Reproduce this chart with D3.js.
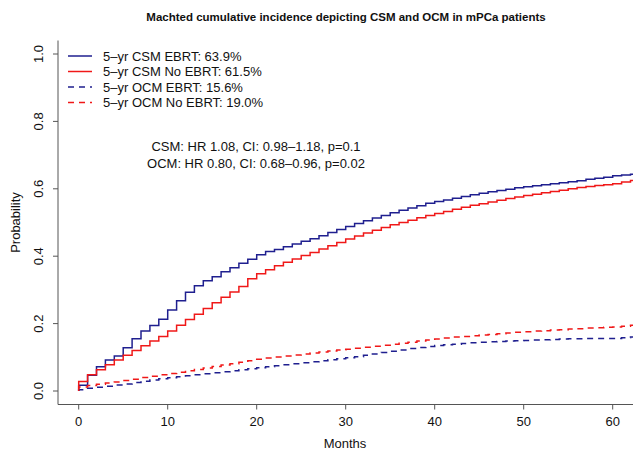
<!DOCTYPE html>
<html><head><meta charset="utf-8">
<script src="https://cdn.jsdelivr.net/npm/d3@7"></script>
<style>
html,body{margin:0;padding:0;background:#fff;}
svg{display:block;font-family:"Liberation Sans",Arial,Helvetica,sans-serif;}
</style></head>
<body>
<svg id="chart" width="633" height="451"></svg>
<script>
const title = "Machted cumulative incidence depicting CSM and OCM in mPCa patients";
const xLabel = "Months";
const yLabel = "Probability";
const xTicks = [0, 10, 20, 30, 40, 50, 60];
const yTicks = [0.0, 0.2, 0.4, 0.6, 0.8, 1.0];
const months = d3.range(0, 64);
const csmEbrt = [0.017,0.047,0.072,0.092,0.104,0.128,0.155,0.178,0.194,0.213,0.240,0.268,0.293,0.312,0.327,0.339,0.354,0.366,0.379,0.391,0.404,0.414,0.420,0.428,0.436,0.444,0.452,0.461,0.470,0.479,0.488,0.497,0.505,0.513,0.521,0.529,0.536,0.543,0.550,0.557,0.562,0.567,0.572,0.577,0.582,0.587,0.591,0.595,0.599,0.603,0.606,0.609,0.612,0.615,0.618,0.621,0.624,0.628,0.631,0.634,0.639,0.641,0.643,0.643];
const csmNoEbrt = [0.028,0.048,0.063,0.078,0.092,0.106,0.120,0.134,0.148,0.162,0.178,0.195,0.212,0.228,0.245,0.262,0.278,0.294,0.310,0.333,0.348,0.360,0.372,0.382,0.392,0.402,0.411,0.421,0.431,0.441,0.451,0.460,0.469,0.477,0.485,0.493,0.500,0.507,0.514,0.521,0.527,0.533,0.539,0.545,0.551,0.556,0.561,0.566,0.571,0.576,0.580,0.584,0.588,0.592,0.596,0.600,0.604,0.607,0.610,0.612,0.615,0.620,0.625,0.625];
const ocmEbrt = [0.004,0.008,0.011,0.014,0.018,0.021,0.025,0.029,0.033,0.036,0.039,0.042,0.045,0.048,0.051,0.054,0.057,0.060,0.063,0.066,0.069,0.072,0.075,0.078,0.081,0.084,0.087,0.090,0.093,0.096,0.099,0.102,0.106,0.110,0.114,0.118,0.122,0.126,0.129,0.132,0.135,0.137,0.139,0.141,0.143,0.145,0.146,0.147,0.148,0.149,0.150,0.151,0.152,0.153,0.154,0.155,0.155,0.156,0.156,0.156,0.156,0.158,0.160,0.160];
const ocmNoEbrt = [0.012,0.016,0.020,0.024,0.027,0.031,0.035,0.040,0.044,0.048,0.052,0.056,0.060,0.064,0.068,0.073,0.077,0.081,0.085,0.090,0.094,0.098,0.101,0.104,0.107,0.110,0.113,0.116,0.119,0.122,0.124,0.127,0.130,0.133,0.136,0.139,0.142,0.145,0.148,0.151,0.154,0.157,0.160,0.162,0.164,0.166,0.168,0.170,0.172,0.174,0.176,0.178,0.179,0.181,0.182,0.184,0.185,0.187,0.188,0.189,0.190,0.192,0.195,0.195];
const seriesNames = ["5\u2013yr CSM EBRT: 63.9%","5\u2013yr CSM No EBRT: 61.5%","5\u2013yr OCM EBRT: 15.6%","5\u2013yr OCM No EBRT: 19.0%"];
const seriesValues = [csmEbrt, csmNoEbrt, ocmEbrt, ocmNoEbrt];
const seriesColors = ["#1f1f8f","#f01818","#1f1f8f","#f01818"];
const seriesDash = [null, null, "6,5", "6,5"];
const annotation = ["CSM: HR 1.08, CI: 0.98\u20131.18, p=0.1","OCM: HR 0.80, CI: 0.68\u20130.96, p=0.02"];

const svg = d3.select("#chart");
const x = d3.scaleLinear().domain([0, 60]).range([78.7, 612.7]);
const y = d3.scaleLinear().domain([0, 1]).range([391, 54]);
const plotL = 58, plotT = 40.5, plotB = 404.5, plotR = 633;

svg.append("defs").append("clipPath").attr("id","clip")
  .append("rect").attr("x",plotL).attr("y",plotT).attr("width",plotR-plotL).attr("height",plotB-plotT);

// title
svg.append("text").attr("x",346).attr("y",21).attr("text-anchor","middle")
  .attr("font-weight","bold").attr("font-size",11.5).attr("fill","#111").text(title);

// axes (L-shaped box)
const axisColor = "#555";
svg.append("path").attr("d",`M${plotL},${plotT}V${plotB}H${plotR}`)
  .attr("fill","none").attr("stroke",axisColor).attr("stroke-width",1);
const xAxis = svg.append("g");
xAxis.selectAll("line").data(xTicks).join("line")
  .attr("x1",d=>x(d)).attr("x2",d=>x(d)).attr("y1",plotB).attr("y2",plotB+5)
  .attr("stroke",axisColor);
xAxis.selectAll("text").data(xTicks).join("text")
  .attr("x",d=>x(d)).attr("y",426).attr("text-anchor","middle")
  .attr("font-size",13).attr("fill","#111").text(d=>d);
const yAxis = svg.append("g");
yAxis.selectAll("line").data(yTicks).join("line")
  .attr("x1",plotL-5).attr("x2",plotL).attr("y1",d=>y(d)).attr("y2",d=>y(d))
  .attr("stroke",axisColor);
yAxis.selectAll("text").data(yTicks).join("text")
  .attr("transform",d=>`translate(43,${y(d)}) rotate(-90)`)
  .attr("text-anchor","middle").attr("font-size",13).attr("fill","#111")
  .text(d=>d.toFixed(1));

svg.append("text").attr("x",345).attr("y",448).attr("text-anchor","middle")
  .attr("font-size",13).attr("fill","#111").text(xLabel);
svg.append("text").attr("transform",`translate(20,222.5) rotate(-90)`)
  .attr("text-anchor","middle").attr("font-size",13).attr("fill","#111").text(yLabel);

// curves
const line = d3.line().x(d=>x(d[0])).y(d=>y(d[1])).curve(d3.curveStepAfter);
const g = svg.append("g").attr("clip-path","url(#clip)");
seriesValues.forEach((vals,i)=>{
  const pts = [[0,0]].concat(months.map((m,j)=>[m, vals[j]]));
  g.append("path").datum(pts).attr("d",line).attr("fill","none")
    .attr("stroke",seriesColors[i]).attr("stroke-width",1.5)
    .attr("stroke-dasharray",seriesDash[i]);
});

// legend
const leg = svg.append("g");
seriesNames.forEach((name,i)=>{
  const cy = 56 + i*15.5;
  leg.append("line").attr("x1",68).attr("x2",92).attr("y1",cy).attr("y2",cy)
    .attr("stroke",seriesColors[i]).attr("stroke-width",1.5).attr("stroke-dasharray",seriesDash[i]);
  leg.append("text").attr("x",103).attr("y",cy).attr("dy","0.35em")
    .attr("font-size",13).attr("fill","#111").text(name);
});

// annotation
annotation.forEach((t,i)=>{
  svg.append("text").attr("x",256).attr("y",146+i*17).attr("dy","0.35em")
    .attr("text-anchor","middle").attr("font-size",13).attr("fill","#111").text(t);
});
</script>
</body></html>
